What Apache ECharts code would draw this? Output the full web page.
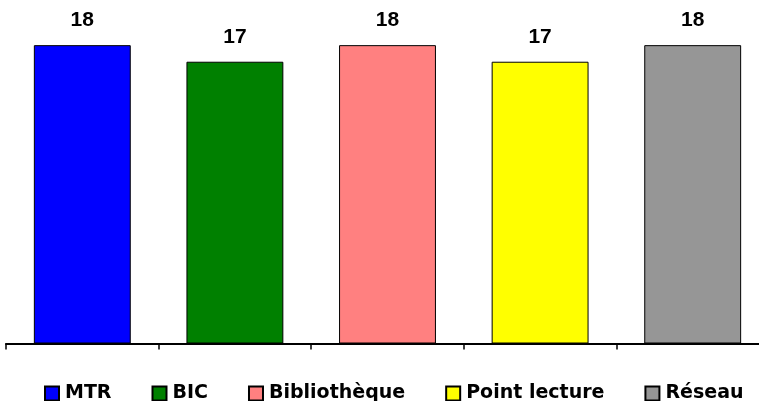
<!DOCTYPE html>
<html>
<head>
<meta charset="utf-8">
<script src="https://cdn.jsdelivr.net/npm/echarts@6/dist/echarts.min.js"></script>
<style>html,body{margin:0;padding:0;background:#fff;}#c{width:759px;height:401px;}</style>
</head>
<body>
<div id="c"></div>
<script>
var categories = ['MTR', 'BIC', 'Bibliothèque', 'Point lecture', 'Réseau'];
var values = [18, 17, 18, 17, 18];
var colors = ['#0000FF', '#008000', '#FF8080', '#FFFF00', '#969696'];

var chart = echarts.init(document.getElementById('c'));
var series = categories.map(function (name, i) {
  var data = categories.map(function (_, j) { return j === i ? values[i] : '-'; });
  return {
    name: name,
    type: 'bar',
    stack: 'all',
    barWidth: '63.5%',
    data: data,
    itemStyle: { color: colors[i], borderColor: '#000', borderWidth: 1 },
    label: {
      show: true,
      position: 'top',
      distance: 14,
      fontFamily: 'Liberation Sans, Arial, sans-serif',
      fontWeight: 'bold',
      fontSize: 21,
      color: '#000'
    }
  };
});

chart.setOption({
  animation: false,
  grid: { left: 6, width: 763, top: 12, height: 331.5, outerBoundsMode: 'none', containLabel: false },
  xAxis: {
    type: 'category',
    data: categories,
    axisLine: { lineStyle: { color: '#000', width: 2 } },
    axisTick: { show: true, length: 6, inside: false, lineStyle: { color: '#000', width: 1.5 } },
    axisLabel: { show: false }
  },
  yAxis: {
    type: 'value', min: 0, max: 20, show: false,
    splitLine: { show: false }
  },
  legend: {
    data: categories,
    left: 44,
    top: 384,
    width: 715,
    padding: 0,
    itemWidth: 14,
    itemHeight: 14,
    itemGap: 40,
    icon: 'rect',
    textStyle: {
      fontFamily: 'DejaVu Sans, sans-serif',
      fontWeight: 'bold',
      fontSize: 19,
      color: '#000',
      padding: [0, 0, 0, 1]
    }
  },
  series: series
});
</script>
</body>
</html>
